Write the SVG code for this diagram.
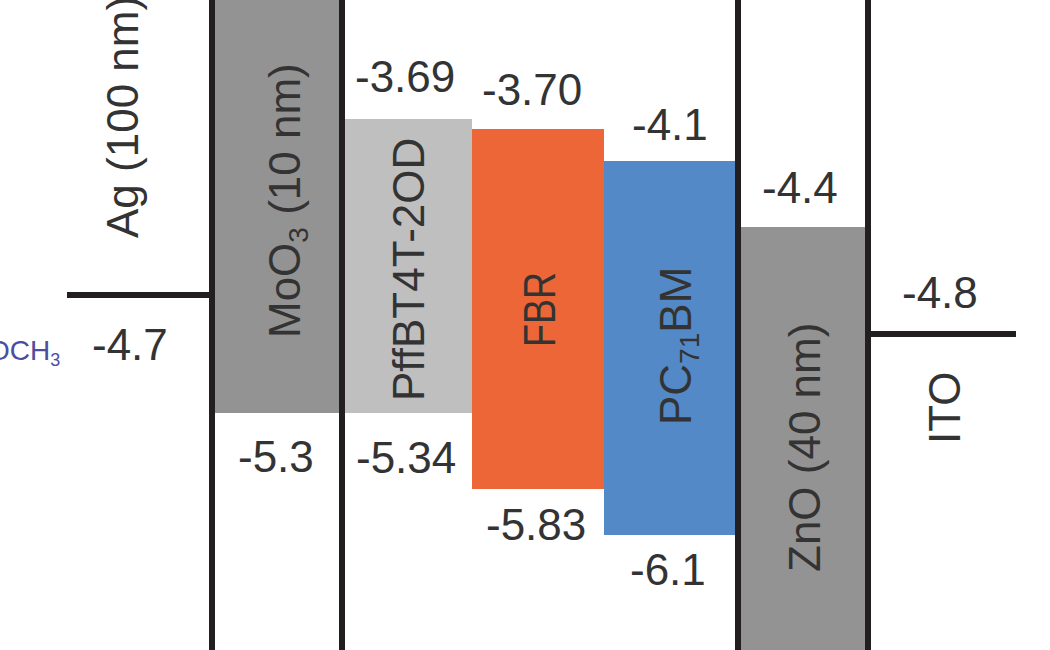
<svg xmlns="http://www.w3.org/2000/svg" width="1050" height="650" viewBox="0 0 1050 650">
<style>
.num{font-family:"Liberation Sans",Arial,sans-serif;font-size:44px;fill:#333}
.lbl{font-family:"Liberation Sans",Arial,sans-serif;font-size:44px;fill:#333}
.edge{stroke:#231f20;stroke-width:6;fill:none}
.blue{font-family:"Liberation Sans",Arial,sans-serif;font-size:28px;fill:#4d4d9e}
</style>
<rect width="1050" height="650" fill="#fff"/>
<g id="ag">
  <text class="lbl" transform="translate(138,238) rotate(-90)">Ag (100 nm)</text>
  <text class="num" x="92" y="360">-4.7</text>
  <text class="blue" x="-12" y="360">OCH<tspan font-size="18" dy="6">3</tspan></text>
</g>
<g id="moo3">
  <rect x="212" y="0" width="130" height="413" fill="#939393"/>
  <text class="lbl" transform="translate(300,338) rotate(-90)">MoO<tspan font-size="28" dy="8">3</tspan><tspan dy="-8"> (10 nm)</tspan></text>
  <text class="num" x="238" y="472">-5.3</text>
</g>
<g id="pffbt4t">
  <rect x="345" y="119" width="127" height="294" fill="#bfbfbf"/>
  <text class="lbl" transform="translate(424,401) rotate(-90)">PffBT4T-2OD</text>
  <text class="num" x="355" y="92">-3.69</text>
  <text class="num" x="356" y="473">-5.34</text>
</g>
<g id="fbr">
  <rect x="472" y="129" width="132" height="360" fill="#ec6637"/>
  <text class="lbl" transform="translate(555,347) rotate(-90)" textLength="75" lengthAdjust="spacingAndGlyphs">FBR</text>
  <text class="num" x="482" y="105">-3.70</text>
  <text class="num" x="486" y="540">-5.83</text>
</g>
<g id="pc71bm">
  <rect x="604" y="161" width="132" height="374" fill="#5389c7"/>
  <text class="lbl" transform="translate(691,425) rotate(-90)">PC<tspan font-size="28" dy="8">71</tspan><tspan dy="-8">BM</tspan></text>
  <text class="num" x="632" y="140">-4.1</text>
  <text class="num" x="630" y="585">-6.1</text>
</g>
<g id="zno">
  <rect x="738" y="227" width="130" height="423" fill="#939393"/>
  <text class="lbl" transform="translate(820,572) rotate(-90)">ZnO (40 nm)</text>
  <text class="num" x="762" y="203">-4.4</text>
</g>
<g id="ito">
  <text class="lbl" transform="translate(960,444) rotate(-90)">ITO</text>
  <text class="num" x="902" y="308">-4.8</text>
</g>
<g id="connectors">
  <line class="edge" x1="212" y1="0" x2="212" y2="650"/>
  <line class="edge" x1="342" y1="0" x2="342" y2="650"/>
  <line class="edge" x1="738" y1="0" x2="738" y2="650"/>
  <line class="edge" x1="868" y1="0" x2="868" y2="650"/>
  <line class="edge" x1="67" y1="295" x2="212" y2="295"/>
  <line class="edge" x1="868" y1="334" x2="1016" y2="334"/>
</g>
</svg>
